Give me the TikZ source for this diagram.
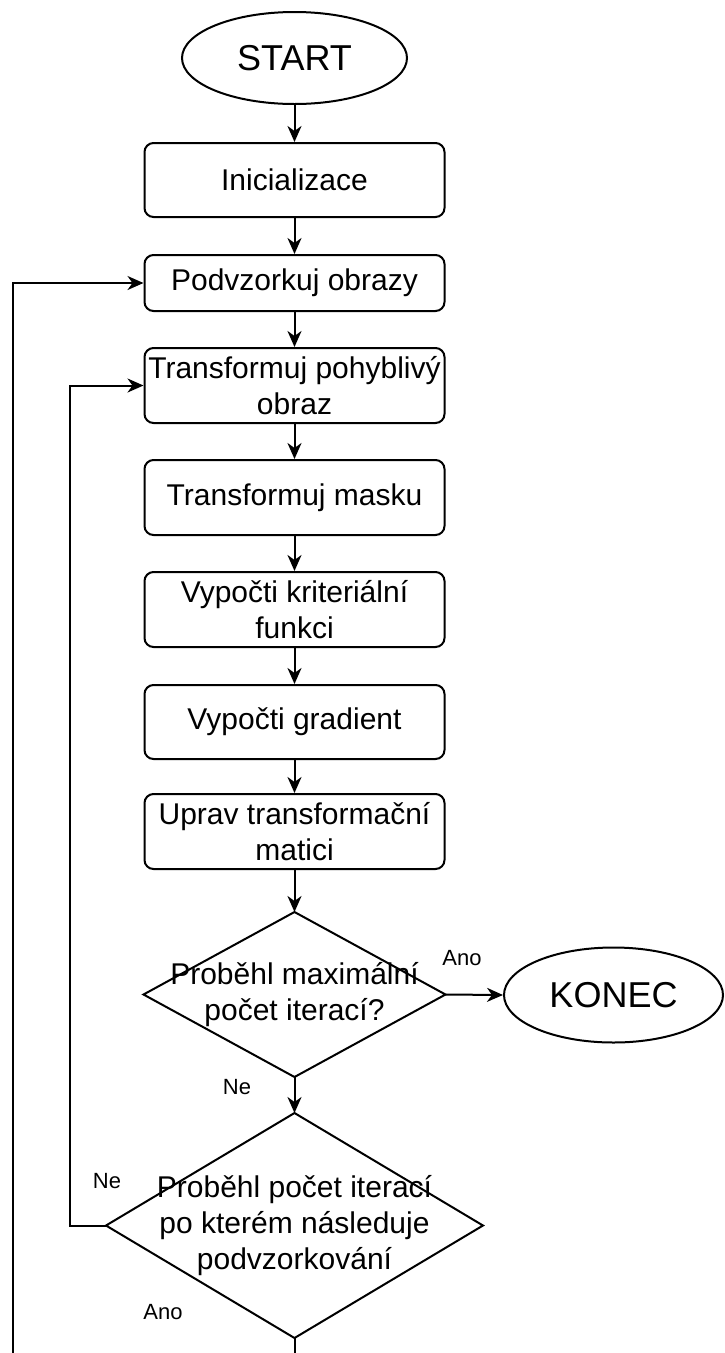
\documentclass[tikz,border=0pt]{standalone}
\usepackage{fontspec}
\setmainfont{Liberation Sans}
\usetikzlibrary{shapes.geometric,arrows.meta}
\begin{document}
\begin{tikzpicture}[x=1pt,y=-1pt,
  line width=2pt,
  flow/.style={-{Stealth[length=16pt,width=14pt,inset=5pt]}},
  proc/.style={draw, rounded corners=9pt, minimum width=300pt, inner sep=0pt,
    align=center, font=\fontsize{30}{36}\selectfont},
  term/.style={draw, ellipse, inner sep=0pt, font=\fontsize{36}{43}\selectfont},
  decbox/.style={inner sep=0pt, align=center, font=\fontsize{30}{36}\selectfont},
  lbl/.style={inner sep=0pt, font=\fontsize{22}{26}\selectfont}
]
\useasboundingbox (0,0) rectangle (724,1353);
\clip (0,0) rectangle (724,1353);

% main column
\node[term, minimum width=225pt, minimum height=92pt] (start) at (294.5,58) {START};
\node[proc, minimum height=74pt] (init)  at (294.5,180)   {Inicializace};
\node[proc, minimum height=56pt] (podv)  at (294.5,283)   {Podvzorkuj obrazy};
\node[proc, minimum height=75pt] (tpoh)  at (294.5,385.5) {Transformuj pohyblivý\\obraz};
\node[proc, minimum height=75pt] (tmask) at (294.5,497.5) {Transformuj masku};
\node[proc, minimum height=75pt] (krit)  at (294.5,609.5) {Vypočti kriteriální\\funkci};
\node[proc, minimum height=74pt] (grad)  at (294.5,722)   {Vypočti gradient};
\node[proc, minimum height=75pt] (uprav) at (294.5,831.5) {Uprav transformační\\matici};

% decisions
\node[decbox, minimum width=300pt, minimum height=163pt] (d1) at (294.5,994.5)
  {Proběhl maximální\\počet iterací?};
\draw (d1.north) -- (d1.east) -- (d1.south) -- (d1.west) -- cycle;
\node[decbox, minimum width=375pt, minimum height=223pt] (d2) at (294.5,1225.5)
  {Proběhl počet iterací\\po kterém následuje\\podvzorkování};
\draw (d2.north) -- (d2.east) -- (d2.south) -- (d2.west) -- cycle;

\node[term, minimum width=219pt, minimum height=95pt] (konec) at (613.5,995) {KONEC};

% connectors
\draw[flow] (start.south) -- (init.north);
\draw[flow] (init.south) -- (podv.north);
\draw[flow] (podv.south) -- (tpoh.north);
\draw[flow] (tpoh.south) -- (tmask.north);
\draw[flow] (tmask.south) -- (krit.north);
\draw[flow] (krit.south) -- (grad.north);
\draw[flow] (grad.south) -- (uprav.north);
\draw[flow] (uprav.south) -- (d1.north);
\draw[flow] (d1.east) -- (konec.west);
\draw[flow] (d1.south) -- (d2.north);

\coordinate (inner) at (70,0);
\draw[flow] (d2.west) -- (d2.west -| inner) |- (tpoh.west);

\coordinate (outer) at (13,1400);
\draw[flow] (d2.south) -- (d2.south |- outer) -- (outer) |- (podv.west);

% branch labels
\node[lbl] (ano1) at (462,958)  {Ano};
\node[lbl] (ne1)  at (237,1087) {Ne};
\node[lbl] (ne2)  at (107,1181) {Ne};
\node[lbl] (ano2) at (163,1312) {Ano};
\end{tikzpicture}
\end{document}
